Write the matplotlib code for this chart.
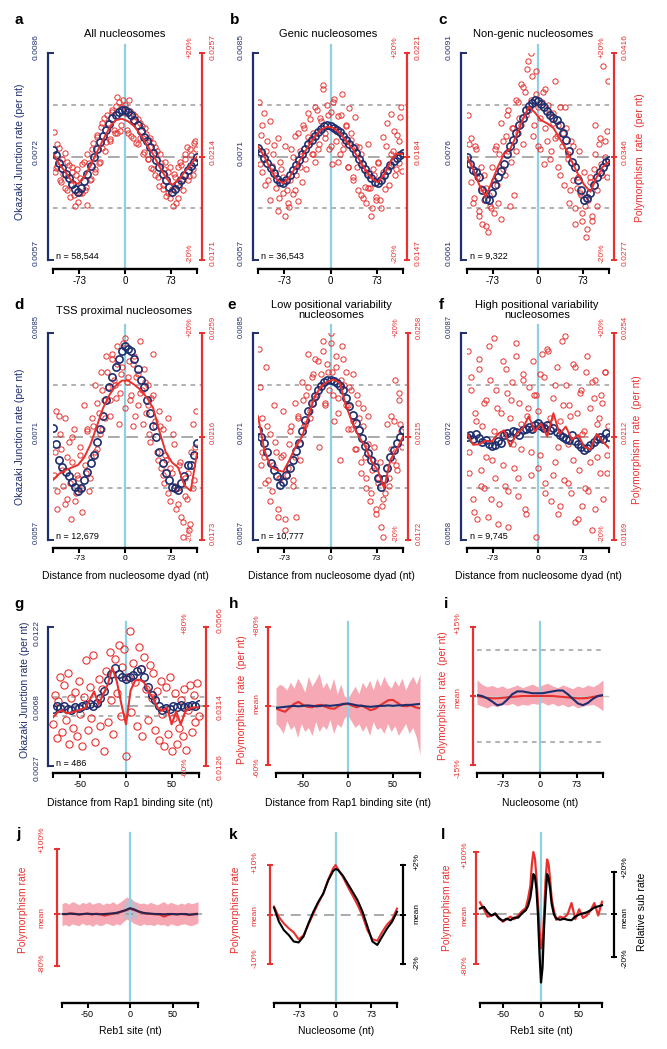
import numpy as np
import matplotlib
matplotlib.use('Agg')
import matplotlib.pyplot as plt
from matplotlib.transforms import blended_transform_factory as blend

plt.rcParams['font.family'] = ['Liberation Sans', 'DejaVu Sans']

W, H = 667, 1049
NAVY = '#1f2e6e'
RED = '#e8312f'
PINK = '#f6a9b4'
CYAN = '#8fd1e3'
GREY = '#9c9c9c'

# ---------------- data (all in % deviation from the mean) ----------------
nuc_blue_x = np.arange(-115, 116, 5)
nuc_curve_x = np.arange(-115, 116, 10)
nuc_scat_x = np.arange(-114, 115, 3)
nuc_scat2_x = np.arange(-112, 113, 4)

blue_a = [1.2, 0.2, -1.2, -2.2, -3.3, -4.2, -5.4, -6.3, -6.8, -6.0, -4.8, -3.4, -1.8, 0.0, 1.4, 2.8, 4.0, 5.1, 6.2, 7.4,
          8.0, 8.6, 9.0, 9.0, 8.6, 8.0, 7.0, 6.0, 5.0, 3.8, 2.9, 1.9, 0.6, -0.7, -2.0, -3.3, -4.6, -5.9, -6.8, -6.2,
          -5.4, -4.6, -3.6, -2.6, -1.8, -1.0, 0.0]
blue_b = [1.6, 0.8, -0.2, -1.2, -2.2, -3.2, -4.3, -5.0, -5.2, -4.6, -3.6, -2.6, -1.6, -0.6, 0.4, 1.4, 2.4, 3.2, 4.0, 4.8,
          5.4, 5.8, 6.0, 5.9, 5.6, 5.2, 4.8, 4.0, 3.2, 2.4, 1.6, 0.6, -0.4, -1.4, -2.4, -3.4, -4.2, -4.9, -5.2, -4.6,
          -3.6, -2.6, -1.6, -0.8, -0.2, 0.3, 0.6]
blue_c = [0.0, -1.5, -2.6, -3.0, -4.0, -6.5, -8.2, -8.5, -7.0, -5.5, -4.0, -2.8, -1.5, 0.5, 2.0, 3.2, 4.5, 6.0, 7.5, 9.0,
          9.8, 10.4, 10.9, 10.7, 10.2, 9.6, 8.8, 8.0, 7.4, 7.0, 6.0, 4.6, 3.2, 1.0, -1.0, -2.0, -4.5, -6.5, -8.5, -8.0,
          -7.0, -5.5, -4.0, -3.0, -2.0, -1.0, -0.7]
blue_d = [1.6, -1.5, -4.5, -5.8, -6.8, -7.7, -8.8, -9.8, -10.5, -10.0, -8.5, -6.8, -5.2, -3.5, -1.0, 1.5, 4.0, 7.0, 9.5,
          11.5, 13.5, 15.0, 16.5, 17.4, 17.0, 16.5, 15.0, 13.0, 11.0, 9.5, 7.0, 4.5, 2.0, 0.0, -3.0, -5.2, -7.0, -8.5,
          -9.7, -10.0, -10.3, -9.0, -7.7, -5.5, -5.5, -3.5, -1.3]
blue_e = [1.3, 0.0, -1.3, -3.0, -5.2, -6.5, -7.7, -9.4, -8.8, -7.5, -6.0, -4.5, -2.8, -1.3, 1.0, 3.2, 5.0, 6.5, 7.8, 9.0,
          9.8, 10.6, 10.9, 11.0, 10.8, 10.3, 9.8, 9.0, 7.5, 5.8, 4.2, 2.6, 1.2, -0.3, -1.8, -3.2, -4.5, -5.8, -8.0, -9.7,
          -8.2, -6.0, -3.9, -2.6, -1.3, 0.0, 1.3]
blue_f = [0.0, 0.3, -0.5, 0.5, -0.3, -1.0, -0.6, -1.5, -1.9, -1.6, -0.8, -1.2, 0.2, 0.6, 0.0, 1.0, 0.8, 0.3, 1.2, 1.5,
          1.9, 1.4, 2.2, 2.6, 2.0, 1.6, 2.3, 1.2, 1.6, 0.8, 0.2, 0.0, -0.4, -0.6, 0.2, -0.8, -1.5, -2.0, -2.6, -2.2,
          -1.6, -1.0, -0.5, 0.0, -0.4, 0.6, 0.0]

curve_a = [0.6, -1.5, -3.0, -4.8, -5.3, -4.0, -1.8, 0.8, 3.2, 5.5, 7.0, 7.3, 6.8, 5.8, 4.2, 2.2, 0.4, -2.0, -4.0, -5.5,
           -4.6, -3.0, -1.6, 0.0]
curve_b = [2.0, 0.0, -2.5, -4.5, -5.2, -4.0, -2.0, 0.0, 2.0, 3.8, 5.2, 5.8, 5.5, 4.5, 3.0, 1.5, -0.5, -2.5, -4.2, -5.0,
           -3.5, -1.0, 0.5, 0.5]
curve_c = [0.0, -2.5, -5.5, -7.8, -5.0, -2.0, 0.5, 1.5, 4.0, 7.0, 9.6, 8.5, 7.0, 6.4, 5.5, 3.5, 1.5, -1.0, -3.5, -5.5,
           -6.8, -4.0, -2.0, -1.0]
curve_d = [-8.4, -7.2, -6.5, -6.0, -5.5, -4.0, -1.5, 2.0, 5.5, 8.0, 9.8, 10.8, 10.8, 10.0, 9.0, 7.5, 5.5, 1.0, -3.0,
           -5.0, -6.0, -9.5, -10.5, -3.2]
curve_e = [3.9, -2.6, -5.8, -6.5, -6.8, -4.5, -1.9, 0.0, 3.9, 7.7, 9.7, 10.6, 11.0, 10.3, 5.8, 2.6, 0.0, -1.9, -4.8,
           -6.5, -10.0, -4.5, -2.5, 0.0]
curve_f = [0.6, -1.6, -1.5, -0.8, -1.0, 0.5, 1.2, -1.9, 0.5, 1.5, 3.9, 1.0, 2.5, 0.0, 4.5, 0.5, 1.9, -0.6, 0.3, -2.0,
           -2.5, 0.5, -1.0, -2.2]

scat_a = [4.8, -2.3, -1.8, 1.7, -5.0, -3.4, 0.6, -6.4, -1.7, -5.6, -2.0, -7.5, -3.6, -8.8, -4.1, -7.0, -1.0, -5.9, -9.4,
          -1.3, -4.4, 2.6, -2.5, 4.1, -1.3, 5.7, 1.6, 7.4, 2.8, 6.4, 3.4, 8.6, 5.2, 9.7, 4.6, 10.5, 6.1, 11.0, 8.4, 5.1,
          10.9, 4.0, 8.2, 6.9, 2.6, 7.3, 3.5, 5.8, 0.9, 4.4, -0.5, 3.2, -2.2, 2.6, -3.5, 1.0, -5.7, -1.3, -6.3, -2.4,
          -7.6, -3.0, -8.1, -6.2, -3.3, -8.9, -2.1, -5.9, -1.7, -4.4, -0.5, 1.9, -3.8, 0.2, -2.5, 2.7, 1.4]
scat_b = [10.5, 4.2, -3.0, 8.4, 1.0, -4.5, 6.8, -1.8, 2.2, -6.0, 3.5, -8.0, -2.4, -4.0, -11.5, -6.5, -9.8, 1.5, -7.2,
          4.0, -3.5, -8.6, 1.0, -5.0, 5.6, -2.5, 3.8, 7.2, 0.5, 4.6, -1.0, 9.0, 2.5, 6.8, 13.8, 4.5, 10.0, 1.5, 8.6, -1.5,
          11.2, 3.0, 7.8, 0.5, 12.0, 2.6, 5.8, -2.0, 9.4, 3.2, -4.5, 7.6, -2.0, 1.8, -7.5, -1.5, -5.8, -9.0, 2.5, -6.0,
          -10.0, -3.5, -7.8, -1.2, -8.4, -4.2, 3.8, -6.2, 6.4, -2.0, 8.2, 1.0, -3.5, 4.2, -1.2, 7.6, -2.8]
scat_c = [8.0, -1.5, 3.5, -9.0, 2.0, -4.0, -10.5, -2.0, -13.0, -8.5, -6.0, -14.5, -9.5, -2.0, -11.0, 1.5, -5.5, 0.5,
          -12.0, 3.0, -3.5, 8.0, 1.0, -9.5, 5.5, -7.5, 11.0, 4.5, 7.5, 14.0, 2.5, 12.5, 17.0, 9.0, 20.0, 15.5, 6.0, 12.0,
          2.0, 7.5, 10.5, -1.5, 13.0, 3.0, 8.5, 1.0, 6.5, 14.5, 4.0, -2.0, 9.5, 2.0, -5.5, 5.5, -0.5, -9.0, 3.0, -4.5,
          -13.0, -6.0, 1.0, -7.5, -11.0, -3.0, -15.5, -8.5, -5.0, -12.5, -2.5, 6.0, -9.5, 2.5, -1.5, 17.5, 3.0, -4.0, 14.5]
scat_d = [-7.5, 5.0, -14.0, 4.0, -2.5, -9.5, 3.5, -12.0, -1.0, -16.0, -5.0, 1.5, -11.0, -8.0, -3.5, -14.5, 6.0, -7.0,
          1.0, -10.5, -4.0, 2.0, 10.0, -2.5, 4.5, 12.5, 1.5, 7.0, 15.5, 9.5, 4.0, 16.0, 11.0, 7.5, 14.0, 2.5, 12.0, 18.0,
          5.5, 10.5, 14.5, 8.0, 2.0, 15.5, 11.5, 6.0, 18.5, 9.0, 13.0, 4.5, 10.0, 0.5, 7.5, 16.0, 2.0, -3.0, 5.0, -6.0,
          1.5, -9.0, -4.5, 3.5, -12.5, -7.0, -1.5, -14.0, -10.0, -5.5, -15.5, -19.5, -8.0, -12.0, -18.0, -3.0, 2.5,
          -8.5, 5.0]
scat_e = [17.0, -5.5, 3.5, -4.0, 13.5, -8.5, 0.5, -10.5, 6.0, -3.0, -15.5, -8.0, -4.0, 5.0, -18.0, -7.5, -1.5, 2.0,
          -8.5, 6.5, -15.5, 4.0, -4.5, 10.5, 2.0, 8.0, 16.0, 3.5, 11.5, 6.5, 15.0, 8.0, -2.0, 12.0, 18.5, 6.0, 14.0, 9.0,
          20.0, 12.5, 3.0, 15.5, 7.5, -4.5, 17.5, 10.0, 12.5, 6.0, 9.5, 1.5, 12.0, -2.5, 8.0, 3.5, -7.0, 5.5, -4.0,
          -10.0, 4.0, -12.5, -6.5, -2.0, -15.0, -9.0, -5.0, -13.5, -19.5, -11.0, 2.5, -8.0, 4.0, -4.5, 11.0, -6.5, 7.0,
          2.5, -2.0]
scat_f = [16.5, -3.0, 9.0, -12.0, 4.5, -16.0, 13.0, -6.5, 2.0, -10.0, 7.0, -15.5, 11.0, -4.5, 19.0, -8.0, 5.5, -13.0,
          0.5, 14.5, -9.5, 8.5, -17.5, 3.5, 10.5, -6.0, 15.5, -11.5, 6.5, -2.5, 12.0, -14.0, 4.0, 9.5, -7.5, 1.5, 8.0,
          -19.5, 5.0, -3.5, 16.0, 11.5, -9.0, 17.0, 2.5, -12.5, 7.5, -5.0, 13.5, -15.0, 3.0, 18.5, -8.5, 10.0, -1.5, 6.0,
          -11.0, 14.0, -16.5, 4.5, -6.5, 9.0, -13.5, 1.0, 12.5, -10.5, 5.5, -18.0, 7.5, 11.0, -4.0, 3.5, 8.0, -12.0,
          12.5, -7.0, 2.0]

scat2_a = [-3.0, 2.5, -4.5, -0.5, -6.0, -1.0, -7.8, -3.0, -9.5, -2.5, -7.0, -1.5, -6.5, 0.5, -4.5, 1.5, -3.0, 3.8,
           -1.0, 6.5, 1.0, 8.0, 3.0, 9.0, 4.5, 11.5, 5.0, 9.5, 10.0, 4.5, 8.8, 3.5, 7.8, 2.5, 6.5, 0.5, 5.5, -0.5, 3.5,
           -2.5, 1.8, -4.0, 0.5, -5.5, -1.0, -7.0, -2.0, -9.5, -4.0, -8.0, -1.0, -6.5, 0.5, -4.5, 1.5, -3.5, 3.0]
scat2_b = [-1.5, 6.0, -5.5, 3.0, -8.5, 0.5, -3.5, -10.5, -1.0, -7.0, 2.0, -9.0, -4.5, 0.0, -6.5, 4.5, -2.0, 6.0, -0.5,
           8.5, 3.0, 0.5, 9.5, 1.5, 7.5, 13.0, 3.5, 8.0, 2.0, 10.5, 5.0, -1.0, 8.0, 1.5, 6.0, -2.0, 4.5, -4.0, 2.0, -6.5,
           0.5, -8.0, -3.0, -6.0, -11.5, -2.5, -8.5, -1.0, -10.0, -3.0, 2.0, -5.5, 0.5, 5.0, -2.5, 3.0, 9.5]
scat2_c = [2.5, -5.0, -8.0, 1.5, -11.5, -6.0, -3.5, -13.5, -7.5, -10.0, -4.5, 2.0, -9.0, 6.5, -2.5, 4.0, 9.0, -1.0,
           5.5, 1.0, 10.5, 6.0, 13.5, 8.0, 18.5, 11.0, 4.0, 16.5, 9.5, 1.5, 12.5, 5.5, 10.0, -0.5, 8.5, 3.5, 6.0, -3.5,
           4.5, 9.5, 0.5, -6.5, 2.0, -10.0, -4.0, -7.0, -12.5, -9.5, -14.0, -4.0, -11.5, 0.5, -6.5, 3.5, -3.5, 0.0, 5.0]
scat2_d = [-3.0, -10.5, 0.5, -6.5, -13.0, -4.0, -9.0, 0.0, -12.5, -7.5, -2.0, -10.0, -5.5, 1.5, -8.0, 3.5, -3.0, 6.5,
           0.5, 9.0, 3.5, 12.5, 7.0, 15.0, 10.0, 17.5, 8.5, 13.5, 19.0, 11.5, 7.0, 14.0, 4.0, 12.0, 8.5, 2.5, 10.5, 6.0,
           -1.0, 8.0, 3.0, -4.5, 2.0, -7.5, -3.5, -11.0, -6.0, 0.5, -9.5, -13.0, -5.0, -16.5, -11.5, -7.0, -17.0, -10.0,
           -2.0]
scat2_e = [9.5, -3.0, -9.0, 2.0, -12.5, -5.5, -1.0, -14.0, -8.0, -3.5, -16.0, -6.0, 1.0, -9.5, -4.0, 3.5, -1.5, 7.0,
           2.5, 9.5, 5.0, 12.0, 7.5, 14.5, 10.0, 16.5, 6.5, 12.5, 18.0, 8.0, 13.5, 4.5, 11.0, 15.0, 6.0, 1.5, 9.0, 3.0,
           -2.5, 6.5, -5.0, 2.0, -8.0, -1.5, -11.0, -4.5, -14.0, -8.0, -17.5, -12.0, -6.0, -9.5, -2.5, 3.0, -5.5, 8.5,
           1.0]
scat2_f = [-7.0, 11.5, -14.5, 3.0, 15.0, -9.5, 6.5, -4.0, 17.5, -12.0, 1.0, 9.0, -17.0, 4.5, -5.5, 13.0, -10.5, 7.0,
           -1.5, 18.0, -8.0, 2.5, 11.0, -15.0, 5.5, -3.0, 14.5, 8.0, -6.0, 12.0, 1.5, -11.0, 16.5, 3.5, -7.5, 10.0, -2.0,
           -13.5, 6.0, 19.5, -9.0, 4.0, -4.5, 13.5, -16.0, 8.5, 0.5, -10.0, 15.5, -5.0, 10.5, -14.0, 2.5, -7.0, 6.5,
           12.5, -3.5]

left_labels = {'a': ['0.0057', '0.0072', '0.0086'], 'b': ['0.0057', '0.0071', '0.0085'],
               'c': ['0.0061', '0.0076', '0.0091'], 'd': ['0.0057', '0.0071', '0.0085'],
               'e': ['0.0057', '0.0071', '0.0085'], 'f': ['0.0058', '0.0072', '0.0087'],
               'g': ['0.0027', '0.0068', '0.0122']}
right_labels = {'a': ['0.0171', '0.0214', '0.0257'], 'b': ['0.0147', '0.0184', '0.0221'],
                'c': ['0.0277', '0.0346', '0.0416'], 'd': ['0.0173', '0.0216', '0.0259'],
                'e': ['0.0172', '0.0215', '0.0258'], 'f': ['0.0169', '0.0212', '0.0254'],
                'g': ['0.0126', '0.0314', '0.0566']}
n_labels = {'a': 'n = 58,544', 'b': 'n = 36,543', 'c': 'n = 9,322', 'd': 'n = 12,679',
            'e': 'n = 10,777', 'f': 'n = 9,745', 'g': 'n = 486'}

# Rap1 panel g
g_blue_x = np.arange(-80, 81, 4)
g_curve_x = np.arange(-80, 81, 5)
g_scat_x = np.arange(-80, 81, 2)
g_blue = [-2.7, 0.0, -2.0, 0.5, -2.5, -3.5, -1.0, -2.0, 0.0, 1.0, 2.0, 0.0, 3.0, 8.0, 16.0, 27.0, 33.0, 39.0, 33.0,
          30.0, 28.0, 30.0, 32.0, 36.0, 38.0, 30.0, 20.0, 12.0, 6.0, 0.0, -4.0, -2.0, -3.0, 0.0, -1.0, 1.0, -1.0, 0.0,
          1.0, 0.0, 2.0]
g_curve = [-11, -6, -4, -7, -6, -5, -3, -2, 6, 15, 2, 12, 22, 39, 25, 2, -18, 16, 26, 27, 24, 14, 8, -2, -4, -1, -18,
           -5, -18, -5, -2, -1, -1]
g_scat = [-18, 12, -32, 5, 30, -26, 22, -14, 34, -38, 8, -22, 15, -30, 26, -8, -40, 10, 47, -24, 20, -12, 52, -36, 3,
          28, -20, 18, -45, 36, -16, 55, 6, -28, 48, 14, 62, -10, 40, 58, -50, 30, 76, -6, 44, 25, -20, 60, 38, -30, 50,
          18, -14, 42, 8, 34, -24, 16, -34, 26, -8, -40, 20, -28, 30, -45, -12, 14, -38, -22, 6, -30, 18, -44, -4, 22,
          -26, 12, -16, 24, -10]

# band panels h, j (Rap1 / Reb1 sites)
rap_line_x = np.arange(-80, 81, 5)
rap_band_x = np.arange(-80, 81, 4)
h_red = [-2.7, -4.5, -6.0, -2.0, 2.0, 4.0, 1.0, -1.0, -1.5, 0.5, 1.0, -1.0, -2.5, -3.0, 0.0, 1.5, 2.0, 0.0, -1.5, 0.5,
         -2.0, -4.4, -3.0, 0.0, 3.0, 5.8, 6.0, 3.0, 0.0, -0.5, 0.5, -1.5, -2.5]
h_blue = [-2.0, -1.5, -1.0, -0.5, 0.0, -0.5, 0.0, 0.5, 0.0, -0.5, 0.0, 0.5, 0.0, 0.5, 1.0, 2.0, 2.4, 1.5, 0.5, 0.0,
          -0.5, -1.0, -0.5, 0.0, 0.0, 0.5, 0.0, 0.5, 0.5, 1.0, 1.0, 1.5, 2.0]
h_hi = [18, 22, 20, 16, 24, 18, 28, 22, 14, 30, 20, 26, 33, 18, 24, 16, 28, 12, 22, 10, 8, 14, 20, 12, 24, 18, 26, 16,
        28, 20, 30, 22, 18, 26, 20, 28, 16, 24, 30, 22, 32]
h_lo = [-18, -22, -28, -15, -24, -20, -32, -18, -26, -22, -30, -16, -26, -20, -24, -14, -28, -18, -22, -12, -10, -16,
        -22, -18, -26, -20, -30, -16, -24, -22, -28, -18, -26, -20, -30, -24, -18, -28, -22, -32, -50]
j_blue = [0, 0, 0.5, 0, -0.5, 0, 0.5, 0, 0, -0.5, 0, 0.5, 1, 2, 4, 6, 9, 7, 4, 2, 1, 0.5, 0, 0, -0.5, 0, 0, -0.5, 0, 0,
          -1, -0.5, 0]
j_red = [0, -0.5, 1, 0.5, -1, 0, 0.5, -1, 0.5, 0, -2.5, -1, 0.5, 1.5, 3.5, 5.5, 8, 6, 3.5, 1.5, 0.5, 0, -0.5, -1, -4,
         -1.5, 0, -0.5, 0, -0.5, -1.5, 0, 0.5]
j_hi = [16, 18, 15, 19, 17, 14, 18, 16, 19, 15, 17, 18, 14, 17, 16, 19, 15, 18, 22, 26, 24, 20, 18, 16, 17, 15, 18, 16,
        14, 17, 19, 15, 18, 16, 14, 17, 15, 18, 16, 17, 19]
j_lo = [-18, -16, -19, -15, -17, -18, -14, -17, -16, -19, -15, -18, -17, -14, -16, -18, -15, -17, -12, -8, -10, -14,
        -16, -18, -15, -17, -16, -18, -15, -17, -16, -19, -15, -17, -18, -16, -15, -17, -18, -16, -14]
j_gx = [-8, -4, 0, 4, 8]
j_ghi = [14, 22, 26, 20, 12]
j_glo = [-8, -6, -4, -6, -8]

# nucleosome panel i
i_x = np.arange(-125, 126, 10)
i_blue = [0.2, 0.0, -0.5, -1.2, -2.0, -1.8, -0.8, 0.4, 1.0, 1.0, 0.8, 0.6, 0.6, 0.6, 0.8, 1.0, 1.2, 1.2, 0.4, -0.6,
          -1.6, -2.0, -1.5, -0.6, 0.0, 0.2]
i_red = [0, -0.2, -0.4, -0.5, -0.5, -0.4, -0.3, -0.2, -0.1, 0, 0, 0, 0, 0, 0, 0, -0.1, -0.2, -0.3, -0.4, -0.5, -0.5,
         -0.4, -0.2, 0, 0.1]
i_hi = [3.5, 2.5, 2.0, 2.3, 1.8, 2.2, 1.6, 2.0, 2.4, 1.8, 2.2, 2.6, 2.0, 2.4, 2.8, 2.2, 1.8, 2.4, 2.0, 1.6, 2.2, 1.8,
        2.4, 2.0, 2.6, 3.5]
i_lo = [-1.8, -2.2, -2.6, -2.0, -2.4, -1.8, -2.0, -1.6, -2.2, -1.8, -2.0, -1.6, -1.8, -1.4, -2.0, -1.6, -2.2, -1.8,
        -2.4, -2.0, -2.6, -2.2, -2.0, -1.8, -2.4, -3.2]

# panel k (polymorphism vs relative substitution rate)
k_x = [-125, -115, -105, -95, -85, -75, -65, -55, -45, -35, -25, -15, -5, 0, 5, 15, 25, 35, 45, 55, 65, 75, 85, 95,
       105, 115, 125]
k_red = [1.6, -0.5, -1.8, -2.8, -3.6, -5.0, -4.2, -2.0, 0.2, 2.3, 4.2, 7.0, 9.3, 10.0, 9.2, 7.6, 5.6, 3.8, 1.9, -0.3,
         -3.2, -5.0, -5.3, -3.5, -2.0, -1.0, 1.2]
k_black = [0.28, -0.29, -0.63, -0.83, -1.09, -1.13, -0.89, -0.36, 0.11, 0.51, 0.84, 1.37, 1.75, 1.84, 1.80, 1.57,
           1.24, 0.91, 0.57, 0.11, -0.49, -1.09, -1.23, -0.89, -0.56, -0.29, 0.11]

# panel l
l_x = [-80, -75, -70, -65, -60, -55, -50, -45, -40, -35, -30, -25, -20, -17, -14, -12, -10, -8, -6, -4, -2, 0, 2, 4,
       6, 8, 10, 12, 14, 17, 20, 25, 30, 35, 40, 45, 50, 55, 60, 65, 70, 75, 80]
l_red = [19, 8, -4, -2, 0, -6, -12, -8, -4, -8, -2, 5, 10, 25, 45, 80, 100, 90, 60, 20, -25, -55, -45, 0, 55, 88, 80,
         55, 25, 5, -9, -4, -6, 0, 18, -8, 8, -6, -2, 6, 18, -2, 20]
l_black = [2.8, 3.6, 1.0, -0.5, 0.5, -1.9, -3.0, -2.0, -2.7, -1.5, -1.5, 0.5, 2.0, 4.0, 8.0, 13.0, 19.0, 18.0, 12.0,
           0.0, -18.0, -32.0, -25.0, -6.0, 8.0, 19.0, 17.0, 12.0, 5.0, 0.0, -1.9, -2.5, -2.0, -2.5, -2.7, -1.0, 0.0, 0.5,
           1.0, 2.0, 3.3, 3.8, 4.4]

# ---------------- drawing helpers ----------------
fig = plt.figure(figsize=(W / 100, H / 100), dpi=100)
RECT = {}


def box(x0, y0, x1, y1):
    ax = fig.add_axes([x0 / W, 1 - y1 / H, (x1 - x0) / W, (y1 - y0) / H])
    RECT[ax] = (x0, y0, x1, y1)
    ax.patch.set_visible(False)
    for s in ax.spines.values():
        s.set_visible(False)
    ax.set_xticks([])
    ax.set_yticks([])
    return ax


def txt(x, y, s, **kw):
    kw.setdefault('ha', 'center')
    kw.setdefault('va', 'center')
    fig.text(x / W, 1 - y / H, s, **kw)


def vtxt(x, y, s, color, size):
    txt(x, y, s, rotation=90, color=color, fontsize=size)


def fx(ax, px):
    x0, y0, x1, y1 = RECT[ax]
    return (px - x0) / (x1 - x0)


def fy(ax, py):
    x0, y0, x1, y1 = RECT[ax]
    return (y1 - py) / (y1 - y0)


def xaxis(ax, lim, ticks, labels, gap, size):
    ax.set_xlim(*lim)
    sp = ax.spines['bottom']
    sp.set_visible(True)
    sp.set_position(('outward', gap * 0.72))
    sp.set_bounds(lim[0], lim[1])
    sp.set_linewidth(1.7)
    ax.set_xticks(ticks)
    ax.set_xticklabels(labels, fontsize=size)
    ax.tick_params(axis='x', length=3.5, width=1.5, pad=1.5)


def yaxis(ax, side, gap, lo, hi, color, ticks, direction='inout', length=5):
    sp = ax.spines[side]
    sp.set_visible(True)
    sp.set_position(('outward', gap * 0.72))
    sp.set_bounds(lo, hi)
    sp.set_color(color)
    sp.set_linewidth(1.6)
    if side == 'right':
        ax.yaxis.tick_right()
    else:
        ax.yaxis.tick_left()
    ax.set_yticks(ticks)
    ax.set_yticklabels([])
    ax.tick_params(axis='y', colors=color, direction=direction, length=length, width=1.4)


def hline(ax, y, px0, px1, **kw):
    ax.plot([fx(ax, px0), fx(ax, px1)], [y, y], transform=blend(ax.transAxes, ax.transData),
            clip_on=False, zorder=1, **kw)


def vline(ax, py0, py1):
    ax.plot([0, 0], [fy(ax, py0), fy(ax, py1)], transform=blend(ax.transData, ax.transAxes),
            color=CYAN, lw=1.6, clip_on=False, zorder=2)


def nuc_panel(key, x0, x1, lsp, rsp, yt, yb, gap, blue, curve, scat, scat2, fs, xfs):
    ax = box(x0, yt, x1, yb)
    ax.set_ylim(-20, 20)
    xaxis(ax, (-115, 115), [-115, -73, 0, 73, 115], ['', '-73', '0', '73', ''], gap, xfs)
    yaxis(ax, 'left', x0 - lsp, -20, 20, NAVY, [-20, 20], direction='in', length=4)
    ax2 = box(x0, yt, x1, yb)
    ax2.set_xlim(-115, 115)
    ax2.set_ylim(-20, 20)
    yaxis(ax2, 'right', rsp - x1, -20, 20, RED, [-20, 0, 20])
    hline(ax, 10, x0, rsp, color=GREY, lw=1.1, dashes=(3, 3))
    hline(ax, -10, x0, rsp, color=GREY, lw=1.1, dashes=(3, 3))
    hline(ax, 0, x0, rsp, color=GREY, lw=1.2, dashes=(7, 4))
    vline(ax, yt - 8, yb + gap)
    ax.plot(nuc_scat_x, scat, 'o', ms=3.8, mfc='none', mec=RED, mew=0.7, zorder=3)
    ax.plot(nuc_scat2_x, scat2, 'o', ms=3.8, mfc='none', mec=RED, mew=0.7, zorder=3)
    ax.plot(nuc_blue_x, blue, 'o', ms=5.2, mfc='none', mec=NAVY, mew=1.2, zorder=4)
    ax.plot(nuc_curve_x, curve, color=RED, lw=1.4, zorder=5)
    ym = (yt + yb) / 2
    for lab, py in zip(left_labels[key], [yb - 7, ym - 4, yt - 6]):
        vtxt(lsp - 12, py, lab, NAVY, fs)
    for lab, py in zip(right_labels[key], [yb - 7, ym - 4, yt - 6]):
        vtxt(rsp + 11, py, lab, RED, fs)
    vtxt(rsp - 12, yt - 6, '+20%', RED, fs)
    vtxt(rsp - 12, yb - 7, '-20%', RED, fs)
    txt(x0 + 3, yb - 4, n_labels[key], ha='left', fontsize=6.5)
    return ax


# ---------------- row 1 ----------------
nuc_panel('a', 53, 197, 48, 202, 53, 260, 9, blue_a, curve_a, scat_a, scat2_a, 6, 7)
nuc_panel('b', 258, 403, 253, 407, 53, 260, 9, blue_b, curve_b, scat_b, scat2_b, 6, 7)
nuc_panel('c', 467, 609, 461, 614, 53, 260, 9, blue_c, curve_c, scat_c, scat2_c, 6, 7)
txt(125, 34, 'All nucleosomes', fontsize=8)
txt(328, 34, 'Genic nucleosomes', fontsize=8)
txt(533, 34, 'Non-genic nucleosomes', fontsize=8)
vtxt(20, 152, 'Okazaki Junction rate (per nt)', NAVY, 7.5)
vtxt(640, 158, 'Polymorphism  rate  (per nt)', RED, 7.5)

# ---------------- row 2 ----------------
nuc_panel('d', 53, 197, 48, 202, 333, 540, 8, blue_d, curve_d, scat_d, scat2_d, 5.5, 6)
nuc_panel('e', 258, 403, 253, 408, 333, 540, 8, blue_e, curve_e, scat_e, scat2_e, 5.5, 6)
nuc_panel('f', 467, 609, 461, 614, 333, 540, 8, blue_f, curve_f, scat_f, scat2_f, 5.5, 6)
txt(124, 311, 'TSS proximal nucleosomes', fontsize=8)
txt(331, 310, 'Low positional variability\nnucleosomes', fontsize=8, linespacing=1.05)
txt(537, 310, 'High positional variability\nnucleosomes', fontsize=8, linespacing=1.05)
vtxt(20, 437, 'Okazaki Junction rate (per nt)', NAVY, 7.5)
vtxt(637, 440, 'Polymorphism  rate  (per nt)', RED, 7.5)
for cx in (125, 331, 538):
    txt(cx, 576, 'Distance from nucleosome dyad (nt)', fontsize=7.5)

# ---------------- row 3 ----------------
# g
ax = box(53, 627, 199, 766)
ax.set_ylim(-60, 80)
xaxis(ax, (-80, 80), [-80, -50, 0, 50, 80], ['', '-50', '0', '50', ''], 7, 6.5)
yaxis(ax, 'left', 5, -60, 80, NAVY, [-60, 80], direction='in', length=4)
ax2 = box(53, 627, 199, 766)
ax2.set_xlim(-80, 80)
ax2.set_ylim(-60, 80)
yaxis(ax2, 'right', 7, -60, 80, RED, [-60, 0, 80])
hline(ax, 10, 53, 206, color=GREY, lw=1.1, dashes=(3, 3))
hline(ax, -10, 53, 206, color=GREY, lw=1.1, dashes=(3, 3))
hline(ax, 0, 53, 206, color=GREY, lw=1.2, dashes=(7, 4))
vline(ax, 622, 773)
ax.plot(g_scat_x, g_scat, 'o', ms=5.2, mfc='none', mec=RED, mew=0.8, zorder=3, clip_on=False)
ax.plot(g_blue_x, g_blue, 'o', ms=5.4, mfc='none', mec=NAVY, mew=1.1, zorder=4)
ax.plot(g_curve_x, g_curve, color=RED, lw=1.5, zorder=5)
for lab, py in zip(left_labels['g'], [768, 707, 633]):
    vtxt(37, py, lab, NAVY, 6)
for lab, py in zip(right_labels['g'], [767, 707, 620]):
    vtxt(220, py, lab, RED, 6)
vtxt(185, 623, '+80%', RED, 6)
vtxt(185, 767, '-60%', RED, 6)
txt(56, 763, n_labels['g'], ha='left', fontsize=6.5)
vtxt(25, 690, 'Okazaki Junction rate (per nt)', NAVY, 7.5)
txt(130, 803, 'Distance from Rap1 binding site (nt)', fontsize=7.5)

# h
ax = box(276, 627, 420, 765)
ax.set_ylim(-60, 80)
xaxis(ax, (-80, 80), [-80, -50, 0, 50, 80], ['', '-50', '0', '50', ''], 8, 6.5)
yaxis(ax, 'left', 8, -60, 80, RED, [-60, 0, 80])
ax.fill_between(rap_band_x, h_lo, h_hi, color=PINK, lw=0, zorder=1)
hline(ax, 0, 268, 420, color='#c8c8c8', lw=1.0)
ax.plot(rap_line_x, h_red, color=RED, lw=1.5, zorder=3)
ax.plot(rap_line_x, h_blue, color=NAVY, lw=1.5, zorder=4)
vline(ax, 622, 773)
vtxt(257, 625, '+80%', RED, 6)
vtxt(257, 704, 'mean', RED, 6)
vtxt(257, 767, '-60%', RED, 6)
vtxt(242, 700, 'Polymorphism  rate  (per nt)', RED, 7.5)
txt(348, 803, 'Distance from Rap1 binding site (nt)', fontsize=7.5)

# i
ax = box(477, 627, 603, 765)
ax.set_ylim(-15, 15)
xaxis(ax, (-125, 125), [-125, -73, 0, 73, 125], ['', '-73', '0', '73', ''], 8, 6.5)
yaxis(ax, 'left', 4, -15, 15, RED, [-15, 0, 15])
ax.fill_between(i_x, i_lo, i_hi, color=PINK, lw=0, zorder=1)
hline(ax, 10, 477, 603, color=GREY, lw=1.1, dashes=(3, 3))
hline(ax, -10, 477, 603, color=GREY, lw=1.1, dashes=(3, 3))
hline(ax, 0, 473, 608, color='#c8c8c8', lw=1.0)
ax.plot(i_x, i_red, color=RED, lw=1.5, zorder=3)
ax.plot(i_x, i_blue, color=NAVY, lw=1.5, zorder=4)
vline(ax, 622, 773)
vtxt(458, 623, '+15%', RED, 6)
vtxt(458, 697, 'mean', RED, 6)
vtxt(458, 768, '-15%', RED, 6)
vtxt(443, 696, 'Polymorphism  rate  (per nt)', RED, 7.5)
txt(540, 803, 'Nucleosome (nt)', fontsize=7.5)

# ---------------- row 4 ----------------
# j
ax = box(62, 849, 198, 966)
ax.set_ylim(-80, 100)
xaxis(ax, (-80, 80), [-80, -50, 0, 50, 80], ['', '-50', '0', '50', ''], 37, 6.5)
yaxis(ax, 'left', 5, -80, 100, RED, [-80, 0, 100])
ax.fill_between(rap_band_x, j_lo, j_hi, color=PINK, lw=0, zorder=1)
ax.fill_between(j_gx, j_glo, j_ghi, color='#c9b8c6', lw=0, zorder=1)
hline(ax, 0, 57, 203, color=GREY, lw=1.1, dashes=(5, 4))
ax.plot(rap_line_x, j_red, color=RED, lw=1.5, zorder=3)
ax.plot(rap_line_x, j_blue, color='#2a2550', lw=1.5, zorder=4)
vline(ax, 833, 1000)
vtxt(42, 840, '+100%', RED, 6)
vtxt(42, 917, 'mean', RED, 6)
vtxt(42, 963, '-80%', RED, 6)
vtxt(23, 910, 'Polymorphism rate', RED, 7.5)
txt(130, 1031, 'Reb1 site (nt)', fontsize=7.5)

# k
ax = box(274, 865, 397, 964)
ax.set_ylim(-10, 10)
xaxis(ax, (-125, 125), [-125, -73, 0, 73, 125], ['', '-73', '0', '73', ''], 39, 6.5)
yaxis(ax, 'left', 4, -10, 10, RED, [-10, 0, 10])
ax2 = box(274, 865, 397, 964)
ax2.set_xlim(-125, 125)
ax2.set_ylim(-2, 2)
yaxis(ax2, 'right', 6, -2, 2, 'black', [-2, 0, 2])
hline(ax, 0, 274, 403, color=GREY, lw=1.2, dashes=(6, 4))
vline(ax, 833, 1000)
ax2.plot(k_x, k_black, color='black', lw=1.5, zorder=3, clip_on=False)
ax.plot(k_x, k_red, color=RED, lw=1.5, zorder=4, clip_on=False)
vtxt(255, 862, '+10%', RED, 6)
vtxt(255, 915, 'mean', RED, 6)
vtxt(255, 958, '-10%', RED, 6)
vtxt(417, 862, '+2%', 'black', 6)
vtxt(417, 914, 'mean', 'black', 6)
vtxt(417, 963, '-2%', 'black', 6)
vtxt(236, 910, 'Polymorphism rate', RED, 7.5)
txt(336, 1031, 'Nucleosome (nt)', fontsize=7.5)

# l
ax = box(480, 852, 602, 964)
ax.set_ylim(-80, 100)
xaxis(ax, (-80, 80), [-80, -50, 0, 50, 80], ['', '-50', '0', '50', ''], 39, 6.5)
yaxis(ax, 'left', 4, -80, 100, RED, [-80, 0, 100])
ax2 = box(480, 852, 602, 964)
ax2.set_xlim(-80, 80)
ax2.set_ylim(-23.3, 29.4)
yaxis(ax2, 'right', 12, -20, 20, 'black', [-20, 0, 20])
hline(ax, 0, 480, 614, color=GREY, lw=1.2, dashes=(6, 4))
vline(ax, 833, 1000)
ax2.plot(l_x, l_black, color='black', lw=1.6, zorder=3, clip_on=False)
ax.plot(l_x, l_red, color=RED, lw=1.6, zorder=4, clip_on=False)
vtxt(465, 855, '+100%', RED, 6)
vtxt(465, 915, 'mean', RED, 6)
vtxt(465, 965, '-80%', RED, 6)
vtxt(625, 867, '+20%', 'black', 6)
vtxt(625, 918, 'mean', 'black', 6)
vtxt(625, 958, '-20%', 'black', 6)
vtxt(447, 908, 'Polymorphism rate', RED, 7.5)
vtxt(642, 912, 'Relative sub rate', 'black', 7.5)
txt(541, 1031, 'Reb1 site (nt)', fontsize=7.5)

# panel letters
for s, x, y in [('a', 19, 20), ('b', 235, 20), ('c', 443, 20), ('d', 19, 305), ('e', 232, 305), ('f', 441, 305),
                ('g', 19, 604), ('h', 234, 604), ('i', 446, 604), ('j', 18, 834), ('k', 233, 835), ('l', 443, 835)]:
    txt(x, y, s, fontsize=11, fontweight='bold')

fig.savefig('out.png', dpi=100)
